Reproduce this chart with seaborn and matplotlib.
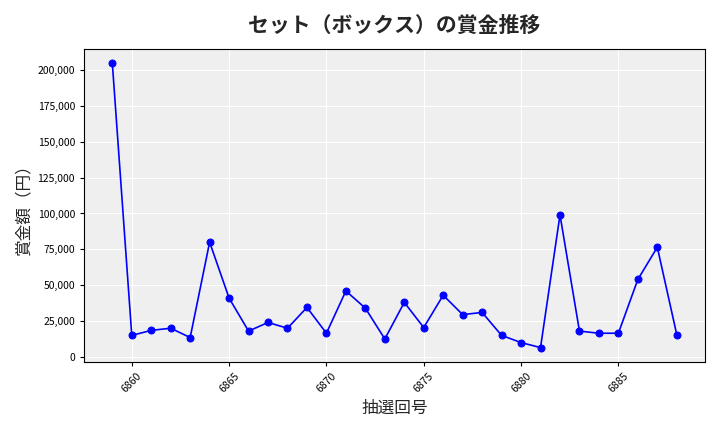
import matplotlib
matplotlib.use("Agg")
import matplotlib.pyplot as plt
import seaborn as sns
import pandas as pd
from matplotlib.ticker import FuncFormatter

draws = list(range(6859, 6889))
prizes = [205000, 15000, 18500, 20000, 13500, 80000, 41000, 18000, 24000, 20000,
          34500, 16500, 46000, 34000, 12500, 38000, 20500, 43000, 29500, 31000,
          15000, 10000, 6500, 99000, 18000, 16500, 16500, 54000, 76500, 15500]

df = pd.DataFrame({"draw": draws, "prize": prizes})

sns.set_style("darkgrid", {"axes.facecolor": "#efefef", "axes.edgecolor": "black", "grid.color": "white",
                           "xtick.bottom": True, "ytick.left": True})
plt.rcParams['font.family'] = ['Noto Sans CJK JP', 'DejaVu Sans']

fig, ax = plt.subplots(figsize=(7.2, 4.32), dpi=100)
sns.lineplot(data=df, x="draw", y="prize", color="blue", marker="o", markersize=5,
             markeredgecolor="blue", linewidth=1.2, ax=ax)
ax.set_title("セット（ボックス）の賞金推移", fontsize=15, fontweight="bold", pad=12)
ax.set_xlabel("抽選回号", fontsize=12)
ax.set_ylabel("賞金額（円）", fontsize=12)
ax.yaxis.set_major_formatter(FuncFormatter(lambda v, p: f"{int(v):,}"))
ax.set_xticks(range(6860, 6889, 5))
ax.tick_params(axis="x", rotation=45, labelsize=7.5, colors="black", length=3)
ax.tick_params(axis="y", labelsize=7.5, colors="black", length=3)
for s in ax.spines.values():
    s.set_visible(True)
    s.set_color("black")
    s.set_linewidth(0.8)
plt.tight_layout()
plt.savefig("out.png", dpi=100)
